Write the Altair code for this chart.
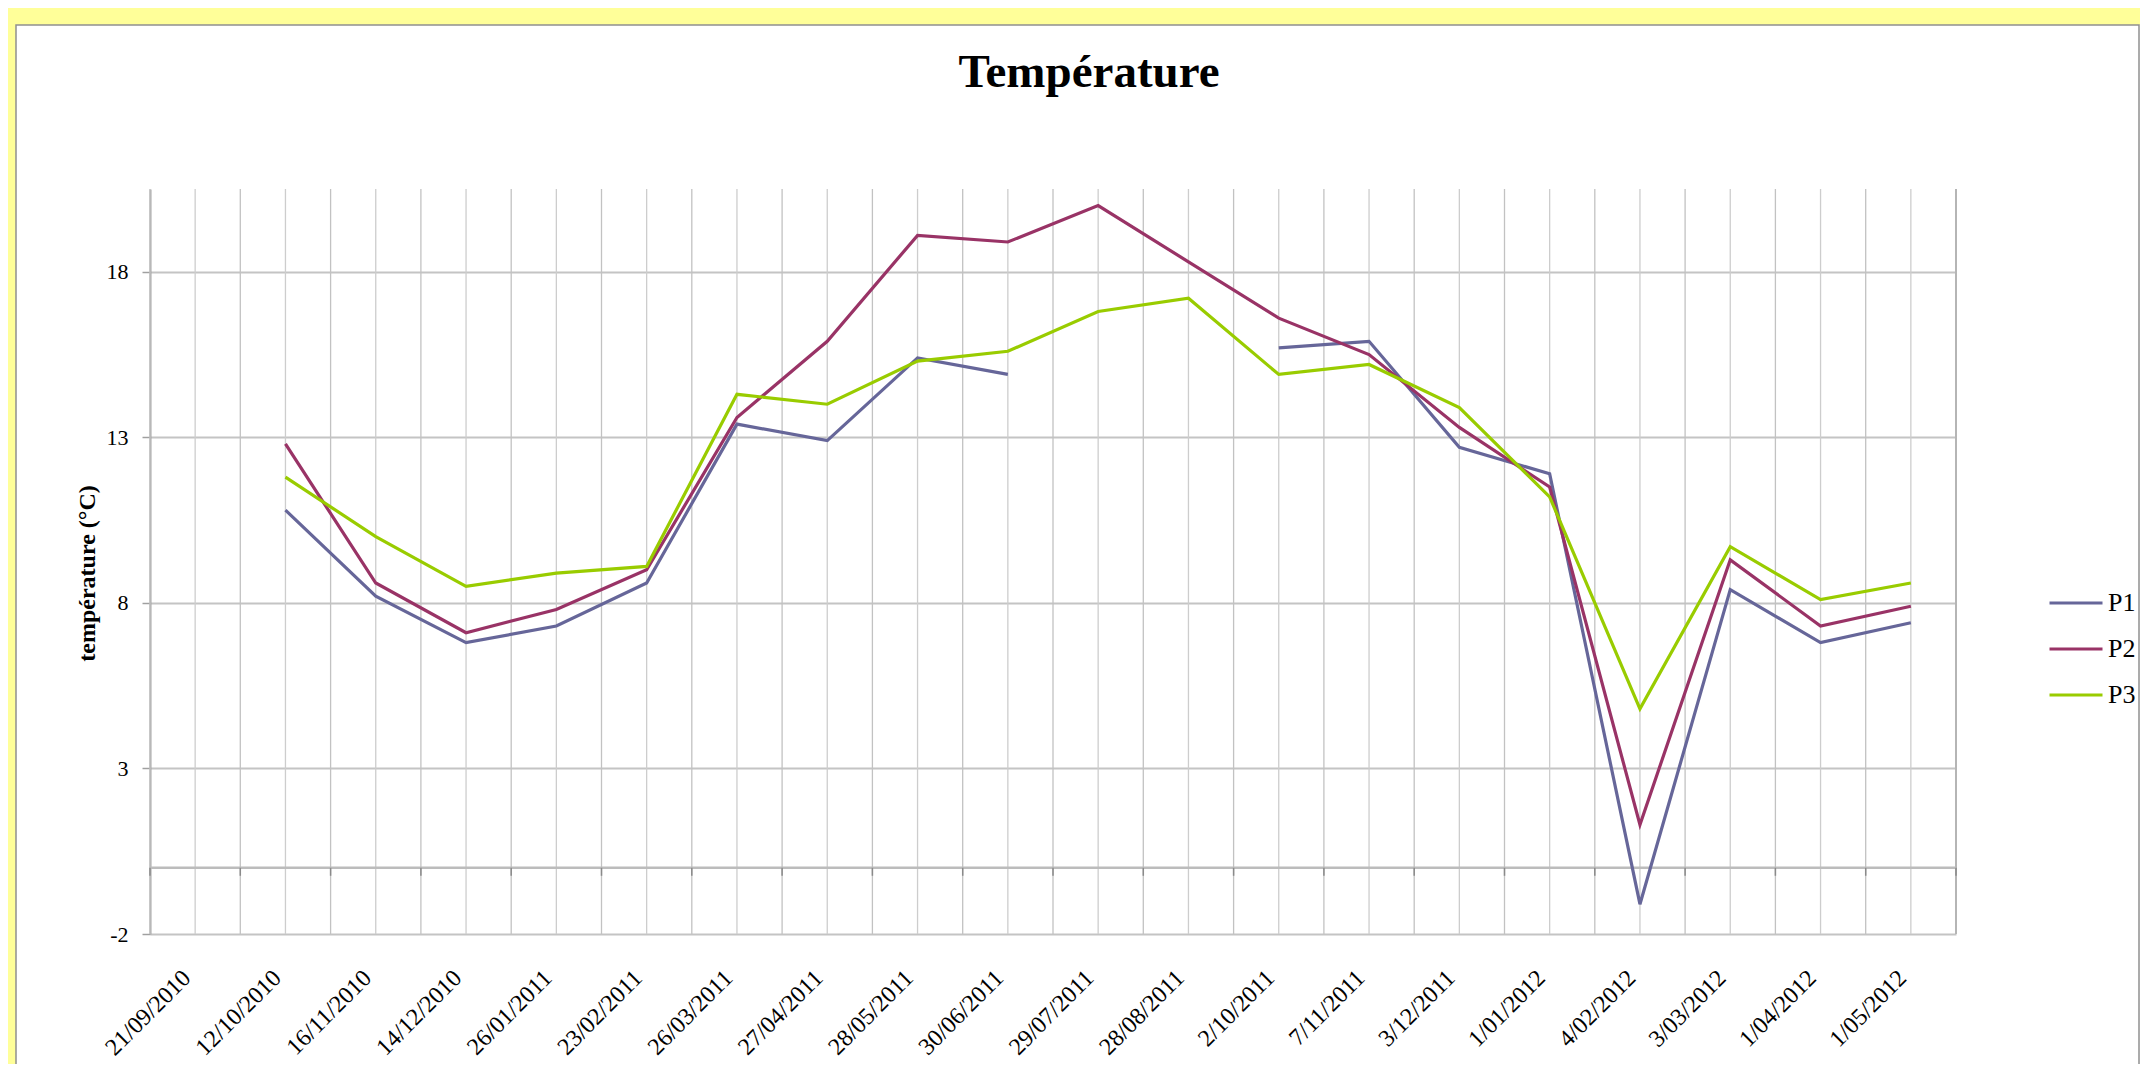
import altair as alt
import pandas as pd

# ---- data ----
dates = ["21/09/2010", "12/10/2010", "16/11/2010", "14/12/2010", "26/01/2011",
         "23/02/2011", "26/03/2011", "27/04/2011", "28/05/2011", "30/06/2011",
         "29/07/2011", "28/08/2011", "2/10/2011", "7/11/2011", "3/12/2011",
         "1/01/2012", "4/02/2012", "3/03/2012", "1/04/2012", "1/05/2012"]
p1 = [None, 10.8, 8.2, 6.8, 7.3, 8.6, 13.4, 12.9, 15.4, 14.9,
      None, None, 15.7, 15.9, 12.7, 11.9, -1.1, 8.4, 6.8, 7.4]
p2 = [None, 12.8, 8.6, 7.1, 7.8, 9.0, 13.6, 15.9, 19.1, 18.9,
      20.0, 18.3, 16.6, 15.5, 13.3, 11.5, 1.3, 9.3, 7.3, 7.9]
p3 = [None, 11.8, 10.0, 8.5, 8.9, 9.1, 14.3, 14.0, 15.3, 15.6,
      16.8, 17.2, 14.9, 15.2, 13.9, 11.2, 4.8, 9.7, 8.1, 8.6]
series_names = ["P1", "P2", "P3"]
series_colors = ["#666699", "#993366", "#99CC00"]
y_ticks = [-2, 3, 8, 13, 18]
title_text = "Température"
y_title = "température (°C)"

# long table; a missing value breaks the line into separate segments
rows = []
for name, vals in zip(series_names, [p1, p2, p3]):
    seg = 0
    gap = True
    for d, v in zip(dates, vals):
        if v is None:
            gap = True
            continue
        if gap:
            seg += 1
            gap = False
        rows.append({"date": d, "serie": name, "seg": f"{name}-{seg}", "temp": v})
df = pd.DataFrame(rows)
dates_df = pd.DataFrame({"date": dates})
last_df = pd.DataFrame({"date": [dates[-1]]})
one = pd.DataFrame({"k": [0]})

W, H = 1806, 745
PL, PT, PR, PB = 142, 181, 184, 130
SERIF = "Liberation Serif"
YELLOW = "#ffff99"

xscale = alt.Scale(type="band", domain=dates, paddingInner=0, paddingOuter=0)
yscale = alt.Scale(domain=[-2, 20.5], nice=False, zero=False)

x_axis = alt.Axis(title=None, labelAngle=315, labelAlign="right",
                  labelBaseline="middle", labelFont=SERIF, labelFontSize=24,
                  labelColor="black", labelPadding=40, labelOffset=-8,
                  labelOverlap=False, ticks=False, tickSize=0,
                  domain=False, grid=False, bandPosition=0.5)
y_axis = alt.Axis(values=y_ticks, title=y_title, titleFont=SERIF,
                  titleFontSize=24, titleFontWeight="bold", titleColor="black",
                  titleAngle=270, titleAlign="center", titleBaseline="middle",
                  titleX=-63, titleY=384,
                  labelFont=SERIF, labelFontSize=22, labelColor="black",
                  labelExpr="'' + datum.value",
                  labelPadding=14, ticks=True, tickSize=8, tickColor="#a0a0a0",
                  tickWidth=1.5, domain=True, domainColor="#a6a6a6",
                  domainWidth=2, grid=True, gridColor="#c4c4c4", gridWidth=2)


def xenc(band):
    return alt.X("date:N", scale=xscale, bandPosition=band, axis=x_axis)


def yzero():
    return alt.Y(datum=0, scale=yscale, axis=y_axis)


# ---- frame decorations ----
top_strip = alt.Chart(one).mark_rect(color=YELLOW).encode(
    x=alt.value(-PL), x2=alt.value(W + PR), y=alt.value(-PT), y2=alt.value(-164))
left_strip = alt.Chart(one).mark_rect(color=YELLOW).encode(
    x=alt.value(-PL), x2=alt.value(-134), y=alt.value(-PT), y2=alt.value(H + PB))
border = alt.Chart(one).mark_rect(fillOpacity=0, stroke="#909090", strokeWidth=1.5).encode(
    x=alt.value(-134), x2=alt.value(1989), y=alt.value(-164), y2=alt.value(H + PB + 20))

title = alt.Chart(one).mark_text(
    text=title_text, font=SERIF, fontSize=47, fontWeight="bold", color="black",
    align="center", baseline="alphabetic").encode(x=alt.value(939), y=alt.value(-102))

# ---- grid / axis lines ----
vgrid_edge = alt.Chart(dates_df).mark_rule(color="#c2c2c2", strokeWidth=1.3).encode(
    x=xenc(0))
vgrid_mid = alt.Chart(dates_df).mark_rule(color="#cdcdcd", strokeWidth=1.3).encode(
    x=xenc(0.5))
right_edge = alt.Chart(last_df).mark_rule(color="#b5b5b5", strokeWidth=2).encode(
    x=xenc(1))

zero_line = alt.Chart(one).mark_rule(color="#bcbcbc", strokeWidth=2.5).encode(
    y=yzero())
zero_ticks = alt.Chart(dates_df).mark_rule(color="#8a8a8a", strokeWidth=1.5, y2Offset=8).encode(
    x=xenc(0), y=yzero(), y2=alt.Y2(datum=0))
zero_tick_end = alt.Chart(last_df).mark_rule(color="#8a8a8a", strokeWidth=1.5, y2Offset=8).encode(
    x=xenc(1), y=yzero(), y2=alt.Y2(datum=0))

# ---- data lines ----
lines = alt.Chart(df).mark_line(strokeWidth=3.2).encode(
    x=xenc(0.5),
    y=alt.Y("temp:Q", scale=yscale, axis=y_axis),
    color=alt.Color("serie:N", scale=alt.Scale(domain=series_names, range=series_colors),
                    legend=alt.Legend(orient="none", legendX=1898, legendY=402,
                                      title=None, symbolType="stroke", symbolSize=2809,
                                      symbolStrokeWidth=3, labelFont=SERIF,
                                      labelFontSize=26, labelColor="black",
                                      labelOffset=4, clipHeight=24, rowPadding=20,
                                      padding=0)),
    detail="seg:N",
)

chart = alt.layer(
    top_strip, left_strip, border, title,
    vgrid_edge, vgrid_mid, right_edge, zero_line, zero_ticks, zero_tick_end,
    lines,
).properties(
    width=W, height=H,
    autosize=alt.AutoSizeParams(type="none"),
    padding={"left": PL, "top": PT, "right": PR, "bottom": PB},
    background="white",
).configure_view(stroke="transparent")

chart.save("out.html", embed_options={"renderer": "svg", "actions": False})
